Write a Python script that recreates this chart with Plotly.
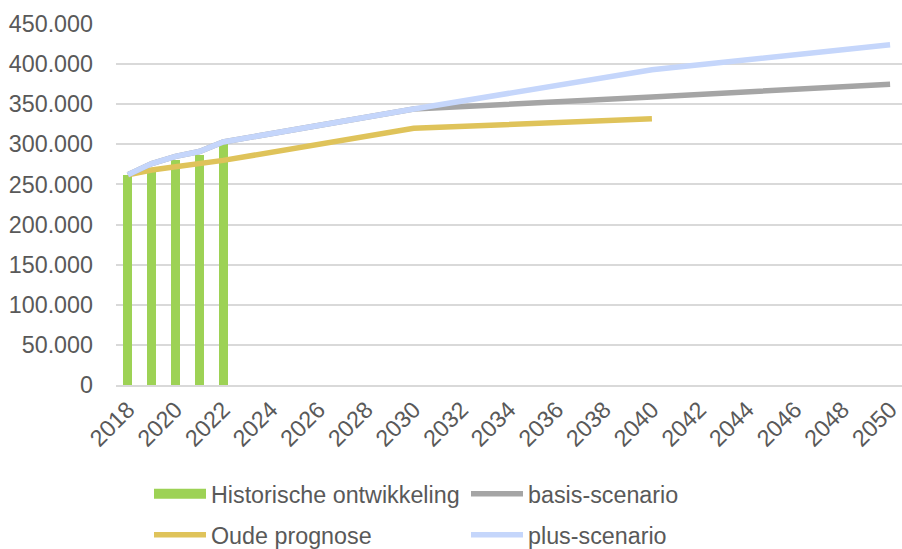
import plotly.graph_objects as go

# Historical totals (bars)
hist_years = [2018, 2019, 2020, 2021, 2022]
hist_values = [262000, 268000, 280000, 287000, 300000]

# Old forecast
oude_years = [2018, 2019, 2020, 2021, 2022, 2030, 2040]
oude_values = [262000, 268000, 272000, 276000, 280000, 320000, 332000]

# Base scenario
basis_years = [2018, 2019, 2020, 2021, 2022, 2030, 2040, 2050]
basis_values = [262000, 276000, 285000, 291000, 303000, 344000, 359000, 375000]

# Plus scenario
plus_years = [2018, 2019, 2020, 2021, 2022, 2030, 2040, 2050]
plus_values = [262000, 276000, 285000, 291000, 303000, 344000, 393000, 424000]

x_ticks = list(range(2018, 2051, 2))
y_ticks = list(range(0, 450001, 50000))

GREEN = "#9dd255"
GOLD = "#dfc35a"
GREY = "#a5a5a5"
BLUE = "#c5d6fb"
TEXT = "#595959"
FONT = "Liberation Sans, Arial, sans-serif"
FS = 23.3

fig = go.Figure()
fig.add_trace(go.Bar(
    x=hist_years, y=hist_values, name="Historische ontwikkeling",
    marker=dict(color=GREEN, line=dict(width=0)), width=0.38,
    showlegend=False,
))
# legend entry for the bars, drawn as a wide block swatch
fig.add_trace(go.Scatter(
    x=[None], y=[None], name="Historische ontwikkeling", mode="lines",
    line=dict(color=GREEN, width=13), legend="legend", legendrank=1,
))
fig.add_trace(go.Scatter(
    x=oude_years, y=oude_values, name="Oude prognose", mode="lines",
    line=dict(color=GOLD, width=5.5), legend="legend2", legendrank=1,
))
fig.add_trace(go.Scatter(
    x=basis_years, y=basis_values, name="basis-scenario", mode="lines",
    line=dict(color=GREY, width=5.5), legend="legend", legendrank=2,
))
fig.add_trace(go.Scatter(
    x=plus_years, y=plus_values, name="plus-scenario", mode="lines",
    line=dict(color=BLUE, width=5.5), legend="legend2", legendrank=2,
))

plot_left, plot_right, plot_top, plot_bottom = 116, 902, 24, 385
W, H = 902, 549


def px_x(px):
    return (px - plot_left) / (plot_right - plot_left)


def px_y(py):
    return (plot_bottom - py) / (plot_bottom - plot_top)


legend_common = dict(
    orientation="h", xref="paper", yref="paper",
    xanchor="left", yanchor="middle",
    entrywidth=250, entrywidthmode="pixels", itemwidth=52,
    font=dict(family=FONT, size=FS, color=TEXT),
    bgcolor="rgba(0,0,0,0)", traceorder="normal",
    itemclick=False, itemdoubleclick=False,
)

fig.update_layout(
    width=W, height=H,
    margin=dict(l=plot_left, r=W - plot_right, t=plot_top, b=H - plot_bottom,
                autoexpand=False),
    paper_bgcolor="white", plot_bgcolor="white",
    separators=",.",
    font=dict(family=FONT, size=FS, color=TEXT),
    bargap=0,
    showlegend=True,
    legend=dict(x=px_x(149), y=px_y(494), **legend_common),
    legend2=dict(x=px_x(149), y=px_y(535), **legend_common),
    xaxis=dict(
        range=[2017.5, 2050.5], tickmode="array", tickvals=x_ticks,
        ticktext=[str(v) for v in x_ticks], tickangle=-45,
        showgrid=False, zeroline=False, showline=True,
        linecolor="#d9d9d9", linewidth=1.5, ticks="", automargin=False,
        tickfont=dict(family=FONT, size=FS, color=TEXT),
    ),
    yaxis=dict(
        range=[0, 450000], tickmode="array", tickvals=y_ticks,
        tickformat=",d", showgrid=True, gridcolor="#d9d9d9", gridwidth=1.5,
        zeroline=False, showline=False, ticks="", ticklabelstandoff=22,
        automargin=False,
        tickfont=dict(family=FONT, size=FS, color=TEXT),
    ),
)

fig.write_html("out.html")
